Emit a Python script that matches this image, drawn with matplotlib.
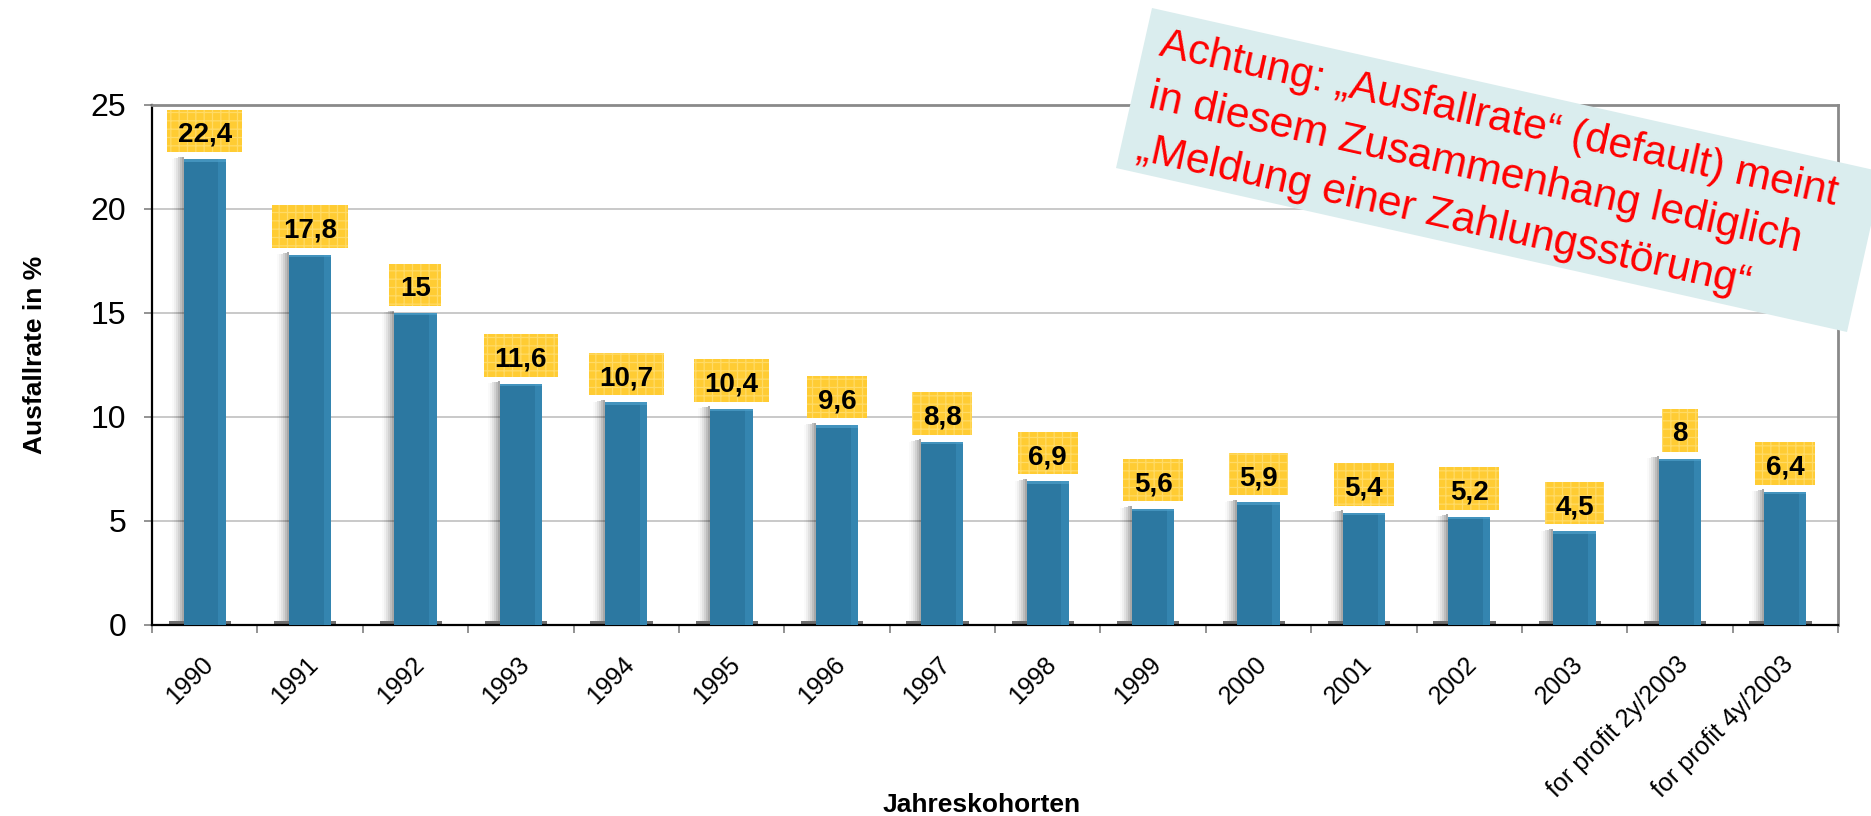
import matplotlib
matplotlib.use('Agg')
import matplotlib.pyplot as plt
import numpy as np
from matplotlib.path import Path
from matplotlib.patches import Polygon
from matplotlib.transforms import IdentityTransform, ScaledTranslation

# ---------------- data ----------------
categories = ['1990', '1991', '1992', '1993', '1994', '1995', '1996', '1997',
              '1998', '1999', '2000', '2001', '2002', '2003',
              'for profit 2y/2003', 'for profit 4y/2003']
values = [22.4, 17.8, 15, 11.6, 10.7, 10.4, 9.6, 8.8, 6.9, 5.6, 5.9, 5.4, 5.2, 4.5, 8, 6.4]
value_labels = ['22,4', '17,8', '15', '11,6', '10,7', '10,4', '9,6', '8,8',
                '6,9', '5,6', '5,9', '5,4', '5,2', '4,5', '8', '6,4']
y_ticks = [0, 5, 10, 15, 20, 25]
x_title = 'Jahreskohorten'
y_title = 'Ausfallrate in %'
note_lines = ['Achtung: \u201eAusfallrate\u201c (default) meint',
              'in diesem Zusammenhang lediglich',
              '\u201eMeldung einer Zahlungsst\u00f6rung\u201c']

plt.rcParams['font.family'] = ['Liberation Sans', 'DejaVu Sans']
plt.rcParams['hatch.linewidth'] = 0.9

W, H = 1871, 816
fig = plt.figure(figsize=(W / 100, H / 100), dpi=100)
ax = fig.add_axes([152 / W, (H - 625) / H, 1686 / W, 520 / H])

x = np.arange(len(categories))
bw = 0.4
vals = np.array(values, dtype=float)

# soft shadow left of bars
n_sh = 6
sw = 0.019
for k in range(n_sh):
    ax.bar(x - bw / 2 - (k + 1) * sw, vals + 0.12 * (1 - k / n_sh), width=sw, align='edge',
           color='black', alpha=0.34 * (1 - k / n_sh) ** 1.6, linewidth=0, zorder=2)
# dark base below bars
ax.bar(x - bw / 2 - 0.14, [0.17] * len(x), width=bw + 0.19, align='edge',
       color='#6e6e6e', linewidth=0, zorder=2)
# bars
ax.bar(x, vals, width=bw, color='#2c78a1', linewidth=0, zorder=3)
ax.bar(x + bw / 2 - 0.07, vals, width=0.07, align='edge', color='#3789b4',
       linewidth=0, zorder=3, alpha=0.8)
ax.bar(x, [0.12] * len(x), bottom=vals - 0.12, width=bw, color='#4d9fca',
       linewidth=0, zorder=3, alpha=0.7)

# data labels
def label_box(x0, y0, width, height, mutation_size):
    px = 0.38 * mutation_size
    pb = 0.15 * mutation_size
    pt = 0.44 * mutation_size
    verts = [(x0 - px, y0 - pb), (x0 + width + px, y0 - pb),
             (x0 + width + px, y0 + height + pt), (x0 - px, y0 + height + pt),
             (x0 - px, y0 - pb)]
    codes = [Path.MOVETO, Path.LINETO, Path.LINETO, Path.LINETO, Path.CLOSEPOLY]
    return Path(verts, codes)

for xi, v, lab in zip(x, vals, value_labels):
    ax.annotate(lab, (xi, v), xytext=(0, 8.1), textcoords='offset points',
                ha='center', va='bottom', fontsize=20, fontweight='bold',
                color='black', zorder=6,
                bbox=dict(boxstyle=label_box, facecolor='#ffcc33',
                          edgecolor='#ffdb66', linewidth=0, hatch='++'))

ax.set_xlim(-0.5, len(categories) - 0.5)
ax.set_ylim(0, 25)
ax.set_yticks(y_ticks)
ax.set_yticklabels([str(t) for t in y_ticks])
ax.yaxis.grid(True, color='#c0c0c0', linewidth=1.2)
ax.set_axisbelow(True)

ax.set_xticks(x)
ax.set_xticklabels(categories, rotation=45, ha='right', va='top',
                   rotation_mode='anchor', fontsize=18)
ax.set_xticks(np.arange(len(categories) + 1) - 0.5, minor=True)
ax.tick_params(axis='x', which='major', length=0, pad=19.5)
ax.tick_params(axis='x', which='minor', length=6, color='#808080', width=1.2)
ax.tick_params(axis='y', length=5.5, color='#808080', width=1.2,
               labelsize=23, pad=13)
shift = ScaledTranslation(-4 / 100, 0, fig.dpi_scale_trans)
for lbl in ax.get_xticklabels():
    lbl.set_transform(lbl.get_transform() + shift)

for s in ['left', 'bottom']:
    ax.spines[s].set_color('black')
    ax.spines[s].set_linewidth(1.6)
for s in ['top', 'right']:
    ax.spines[s].set_color('#8a8a8a')
    ax.spines[s].set_linewidth(2)

ax.set_ylabel(y_title, fontsize=19, fontweight='bold')
ax.yaxis.set_label_coords(-0.0625, 0.519)
fig.text(982, H - 805, x_title, transform=IdentityTransform(),
         ha='center', va='center', fontsize=19, fontweight='bold')

# rotated note box (pixel coords, y measured from bottom)
corners = [(1152, H - 8), (1883, H - 172), (1847, H - 332), (1116, H - 168)]
fig.add_artist(Polygon(corners, closed=True, transform=IdentityTransform(),
                       facecolor='#daedee', edgecolor='none', zorder=10))
fig.text(1165, H - 25, '\n'.join(note_lines), transform=IdentityTransform(),
         ha='left', va='top', rotation=-12.5, rotation_mode='anchor',
         fontsize=30.7, color='#ff0000', linespacing=1.43, zorder=11)

fig.savefig('out.png', dpi=100)
